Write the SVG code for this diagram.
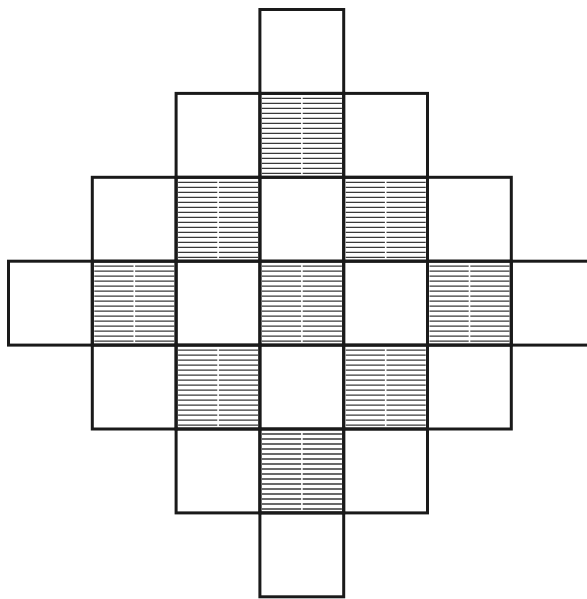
<svg xmlns="http://www.w3.org/2000/svg" xmlns:xlink="http://www.w3.org/1999/xlink" width="587" height="599" viewBox="0 0 587 599">
<style>
.cell{fill:none;stroke:#1a1a1a;stroke-width:3;stroke-linecap:square}
.h{fill:none;stroke:#3a3a3a;stroke-width:1.3}
</style>
<defs>
<path id="hatch" class="h" d="M2 5H41.2M42.8 5H82 M2 10H41.2M42.8 10H82 M2 15H41.2M42.8 15H82 M2 20H41.2M42.8 20H82 M2 25H41.2M42.8 25H82 M2 30H41.2M42.8 30H82 M2 35H41.2M42.8 35H82 M2 40H41.2M42.8 40H82 M2 45H41.2M42.8 45H82 M2 50H41.2M42.8 50H82 M2 55H41.2M42.8 55H82 M2 60H41.2M42.8 60H82 M2 65H41.2M42.8 65H82 M2 70H41.2M42.8 70H82 M2 75H41.2M42.8 75H82 M2 80H41.2M42.8 80H82"/>
</defs>
<rect width="587" height="599" fill="#ffffff"/>
<g id="hatching">
<use xlink:href="#hatch" href="#hatch" x="259.9" y="93.4"/>
<use xlink:href="#hatch" href="#hatch" x="176.1" y="177.3"/>
<use xlink:href="#hatch" href="#hatch" x="343.7" y="177.3"/>
<use xlink:href="#hatch" href="#hatch" x="92.3" y="261.2"/>
<use xlink:href="#hatch" href="#hatch" x="259.9" y="261.2"/>
<use xlink:href="#hatch" href="#hatch" x="427.5" y="261.2"/>
<use xlink:href="#hatch" href="#hatch" x="176.1" y="345.1"/>
<use xlink:href="#hatch" href="#hatch" x="343.7" y="345.1"/>
<use xlink:href="#hatch" href="#hatch" x="259.9" y="429"/>
</g>
<g id="cells">
<g id="c3-0"><rect class="cell" x="259.9" y="9.5" width="83.8" height="83.9"/></g>
<g id="c2-1"><rect class="cell" x="176.1" y="93.4" width="83.8" height="83.9"/></g>
<g id="c3-1"><rect class="cell" x="259.9" y="93.4" width="83.8" height="83.9"/></g>
<g id="c4-1"><rect class="cell" x="343.7" y="93.4" width="83.8" height="83.9"/></g>
<g id="c1-2"><rect class="cell" x="92.3" y="177.3" width="83.8" height="83.9"/></g>
<g id="c2-2"><rect class="cell" x="176.1" y="177.3" width="83.8" height="83.9"/></g>
<g id="c3-2"><rect class="cell" x="259.9" y="177.3" width="83.8" height="83.9"/></g>
<g id="c4-2"><rect class="cell" x="343.7" y="177.3" width="83.8" height="83.9"/></g>
<g id="c5-2"><rect class="cell" x="427.5" y="177.3" width="83.8" height="83.9"/></g>
<g id="c0-3"><rect class="cell" x="8.5" y="261.2" width="83.8" height="83.9"/></g>
<g id="c1-3"><rect class="cell" x="92.3" y="261.2" width="83.8" height="83.9"/></g>
<g id="c2-3"><rect class="cell" x="176.1" y="261.2" width="83.8" height="83.9"/></g>
<g id="c3-3"><rect class="cell" x="259.9" y="261.2" width="83.8" height="83.9"/></g>
<g id="c4-3"><rect class="cell" x="343.7" y="261.2" width="83.8" height="83.9"/></g>
<g id="c5-3"><rect class="cell" x="427.5" y="261.2" width="83.8" height="83.9"/></g>
<g id="c6-3"><rect class="cell" x="511.3" y="261.2" width="83.8" height="83.9"/></g>
<g id="c1-4"><rect class="cell" x="92.3" y="345.1" width="83.8" height="83.9"/></g>
<g id="c2-4"><rect class="cell" x="176.1" y="345.1" width="83.8" height="83.9"/></g>
<g id="c3-4"><rect class="cell" x="259.9" y="345.1" width="83.8" height="83.9"/></g>
<g id="c4-4"><rect class="cell" x="343.7" y="345.1" width="83.8" height="83.9"/></g>
<g id="c5-4"><rect class="cell" x="427.5" y="345.1" width="83.8" height="83.9"/></g>
<g id="c2-5"><rect class="cell" x="176.1" y="429" width="83.8" height="83.9"/></g>
<g id="c3-5"><rect class="cell" x="259.9" y="429" width="83.8" height="83.9"/></g>
<g id="c4-5"><rect class="cell" x="343.7" y="429" width="83.8" height="83.9"/></g>
<g id="c3-6"><rect class="cell" x="259.9" y="512.9" width="83.8" height="83.9"/></g>
</g>
</svg>
